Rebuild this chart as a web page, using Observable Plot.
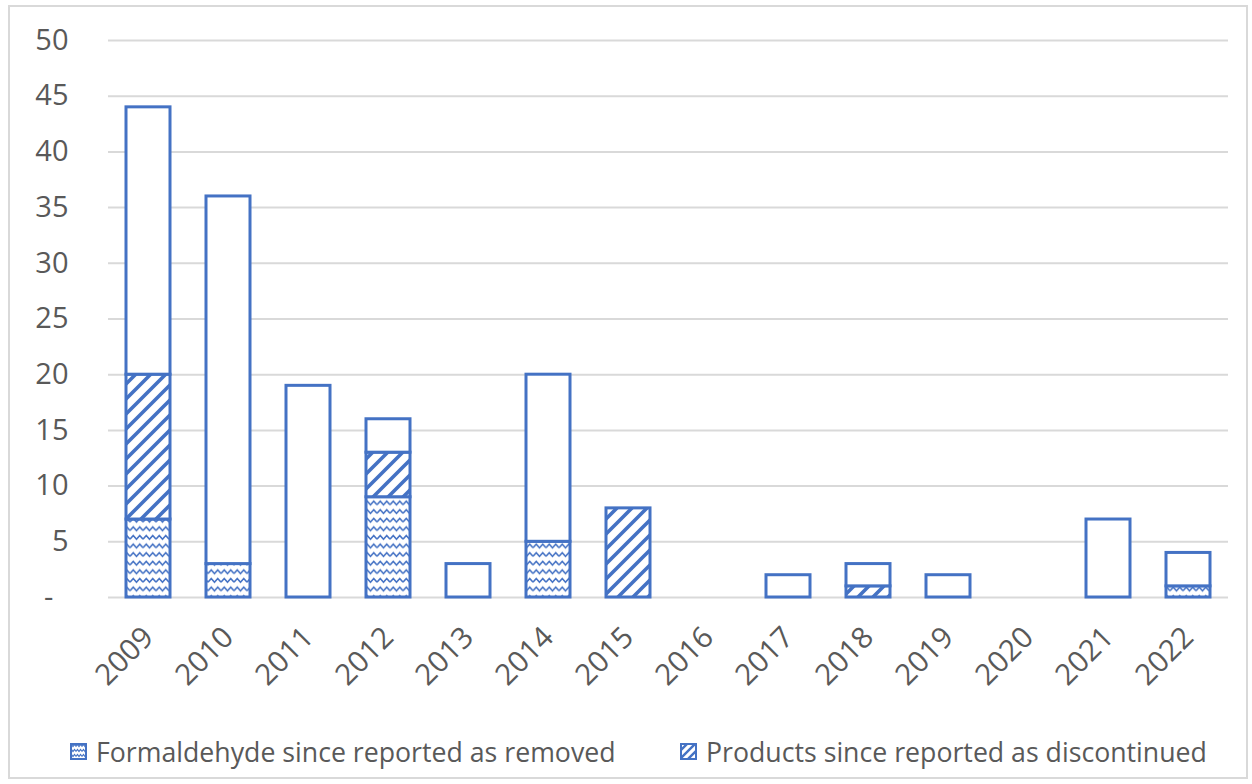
<!DOCTYPE html>
<html>
<head>
<meta charset="utf-8">
<script src="https://cdn.jsdelivr.net/npm/d3@7"></script>
<script src="https://cdn.jsdelivr.net/npm/@observablehq/plot@0.6"></script>
<style>
  html, body { margin: 0; padding: 0; background: #fff; }
  body { width: 1252px; height: 784px; position: relative; overflow: hidden; font-family: "Open Sans", sans-serif; }
  #frame { position: absolute; left: 8px; top: 5px; width: 1240px; height: 774px; border: 2px solid #d9d9d9; box-sizing: border-box; }
  #chart { position: absolute; left: 0; top: 0; }
  .legend-item { position: absolute; top: 733px; display: flex; align-items: center; font-size: 26.7px; color: #595959; white-space: nowrap; }
  .legend-item svg { margin-right: 9px; }
</style>
</head>
<body>
<svg width="0" height="0" style="position:absolute">
  <defs>
    <pattern id="wave" patternUnits="userSpaceOnUse" width="13" height="8.6">
      <rect width="13" height="8.6" fill="#fff"/>
      <path d="M0,6 L3.25,2.3 L6.5,6 L9.75,2.3 L13,6" fill="none" stroke="#4472c4" stroke-width="1.6"/>
    </pattern>
    <pattern id="hatch" patternUnits="userSpaceOnUse" width="15" height="15">
      <rect width="15" height="15" fill="#fff"/>
      <path d="M-3,3 L3,-3 M0,15 L15,0 M12,18 L18,12" stroke="#4472c4" stroke-width="3.6"/>
    </pattern>
    <pattern id="waveS" patternUnits="userSpaceOnUse" width="6" height="5">
      <rect width="6" height="5" fill="#fff"/>
      <path d="M0,3.5 L1.5,1.5 L3,3.5 L4.5,1.5 L6,3.5" fill="none" stroke="#4472c4" stroke-width="1.2"/>
    </pattern>
    <pattern id="hatchS" patternUnits="userSpaceOnUse" width="8" height="8">
      <rect width="8" height="8" fill="#fff"/>
      <path d="M-2,2 L2,-2 M0,8 L8,0 M6,10 L10,6" stroke="#4472c4" stroke-width="2.4"/>
    </pattern>
  </defs>
</svg>
<div id="frame"></div>
<div id="chart"></div>
<script>
const years = ["2009","2010","2011","2012","2013","2014","2015","2016","2017","2018","2019","2020","2021","2022"];
const removed =      [7, 3, 0, 9, 0, 5, 0, 0, 0, 0, 0, 0, 0, 1];
const discontinued = [13, 0, 0, 4, 0, 0, 8, 0, 0, 1, 0, 0, 0, 0];
const remaining =    [24, 33, 19, 3, 3, 15, 0, 0, 2, 2, 2, 0, 7, 3];
const seriesNames = ["Formaldehyde since reported as removed", "Products since reported as discontinued", "Other products"];
const yTicks = [0, 5, 10, 15, 20, 25, 30, 35, 40, 45, 50];

const rows = [];
years.forEach((yr, i) => {
  rows.push({year: yr, series: seriesNames[0], value: removed[i]});
  rows.push({year: yr, series: seriesNames[1], value: discontinued[i]});
  rows.push({year: yr, series: seriesNames[2], value: remaining[i]});
});
const data = rows.filter(d => d.value > 0);

const plot = Plot.plot({
  width: 1252,
  height: 720,
  marginLeft: 108,
  marginRight: 24,
  marginTop: 40,
  marginBottom: 123,
  style: {fontFamily: "'Open Sans', sans-serif", color: "#595959", background: "transparent"},
  x: {domain: years, paddingInner: 0.45, paddingOuter: 0.225, label: null},
  y: {domain: [0, 50], label: null},
  color: {domain: seriesNames, range: ["url(#wave)", "url(#hatch)", "#ffffff"]},
  marks: [
    Plot.gridY(yTicks, {stroke: "#d9d9d9", strokeOpacity: 1, strokeWidth: 2}),
    Plot.axisY(yTicks, {tickSize: 0, tickPadding: 40, fontSize: 29, fill: "#595959",
      tickFormat: d => d === 0 ? "-\u00a0\u00a0" : String(d)}),
    Plot.axisX({tickSize: 0, tickPadding: 35, tickRotate: -45, fontSize: 29.5, fill: "#595959"}),
    Plot.barY(data, Plot.stackY({x: "year", y: "value", fill: "series", stroke: "#4472c4", strokeWidth: 3, order: null}))
  ]
});
document.getElementById("chart").appendChild(plot);

// legend (only the two named series, as in the original)
const legendDefs = [
  {name: seriesNames[0], pat: "url(#waveS)", left: 70},
  {name: seriesNames[1], pat: "url(#hatchS)", left: 680}
];
legendDefs.forEach(l => {
  const div = document.createElement("div");
  div.className = "legend-item";
  div.style.left = l.left + "px";
  div.innerHTML = `<svg width="17" height="17"><rect x="1" y="1" width="15" height="15" fill="${l.pat}" stroke="#4472c4" stroke-width="2"/></svg><span>${l.name}</span>`;
  document.body.appendChild(div);
});
</script>
</body>
</html>
